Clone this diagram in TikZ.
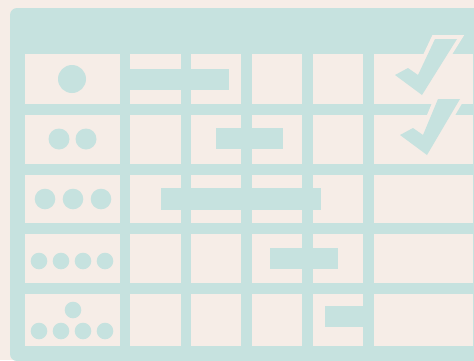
\documentclass[tikz,border=0pt]{standalone}
\usepackage{xcolor}
\usepackage{tikz}
\definecolor{paper}{RGB}{246,237,231}
\definecolor{panel}{RGB}{198,226,223}

\begin{document}
\begin{tikzpicture}[
    x=1pt, y=-1pt,
    cell/.style={fill=paper},
    bar/.style={fill=panel},
    dot/.style={fill=panel},
    tick/.style={fill=panel},
    tickedge/.style={draw=paper, line width=8pt, line join=miter},
]

% Canvas
\useasboundingbox (0,0) rectangle (474,360);
\fill[paper] (0,0) rectangle (474,360);
\clip (0,0) rectangle (474,360);

% Panel
\fill[panel, rounded corners=7pt] (10,8) rectangle (490,361);

% Row 1
\fill[cell] (25,54) rectangle (120,104);
\fill[cell] (130,54) rectangle (181,104);
\fill[cell] (191,54) rectangle (241,104);
\fill[cell] (252,54) rectangle (302,104);
\fill[cell] (313,54) rectangle (363,104);
\fill[cell] (374,54) rectangle (473,104);

% Row 2
\fill[cell] (25,115) rectangle (120,164);
\fill[cell] (130,115) rectangle (181,164);
\fill[cell] (191,115) rectangle (241,164);
\fill[cell] (252,115) rectangle (302,164);
\fill[cell] (313,115) rectangle (363,164);
\fill[cell] (374,115) rectangle (473,164);

% Row 3
\fill[cell] (25,175) rectangle (120,223);
\fill[cell] (130,175) rectangle (181,223);
\fill[cell] (191,175) rectangle (241,223);
\fill[cell] (252,175) rectangle (302,223);
\fill[cell] (313,175) rectangle (363,223);
\fill[cell] (374,175) rectangle (473,223);

% Row 4
\fill[cell] (25,234) rectangle (120,283);
\fill[cell] (130,234) rectangle (181,283);
\fill[cell] (191,234) rectangle (241,283);
\fill[cell] (252,234) rectangle (302,283);
\fill[cell] (313,234) rectangle (363,283);
\fill[cell] (374,234) rectangle (473,283);

% Row 5
\fill[cell] (25,294) rectangle (120,346);
\fill[cell] (130,294) rectangle (181,346);
\fill[cell] (191,294) rectangle (241,346);
\fill[cell] (252,294) rectangle (302,346);
\fill[cell] (313,294) rectangle (363,346);
\fill[cell] (374,294) rectangle (473,346);

% Bars
\fill[bar] (120,68.5) rectangle (229,90);
\fill[bar] (216,128) rectangle (283,149);
\fill[bar] (161,188) rectangle (321,210);
\fill[bar] (270,248) rectangle (338,269);
\fill[bar] (325,306) rectangle (363,327);

% Dots
\fill[dot] (72,79) circle[radius=14pt];
\fill[dot] (59,139) circle[radius=10.5pt];
\fill[dot] (86,139) circle[radius=10.5pt];
\fill[dot] (45,199) circle[radius=10.3pt];
\fill[dot] (73,199) circle[radius=10.3pt];
\fill[dot] (101,199) circle[radius=10.3pt];
\fill[dot] (39,261) circle[radius=8.3pt];
\fill[dot] (61,261) circle[radius=8.3pt];
\fill[dot] (83,261) circle[radius=8.3pt];
\fill[dot] (105,261) circle[radius=8.3pt];
\fill[dot] (73,310) circle[radius=8.3pt];
\fill[dot] (39,331) circle[radius=8.3pt];
\fill[dot] (61,331) circle[radius=8.3pt];
\fill[dot] (83,331) circle[radius=8.3pt];
\fill[dot] (105,331) circle[radius=8.3pt];

% Ticks
\draw[tickedge] (395,75) -- (408,68) -- (418,75) -- (435,39) -- (457,39) -- (422,95) -- cycle;
\fill[tick] (395,75) -- (408,68) -- (418,75) -- (435,39) -- (457,39) -- (422,95) -- cycle;
\draw[tickedge] (400,135) -- (413,128) -- (423,135) -- (438,99) -- (460,99) -- (427,155) -- cycle;
\fill[tick] (400,135) -- (413,128) -- (423,135) -- (438,99) -- (460,99) -- (427,155) -- cycle;

\end{tikzpicture}
\end{document}
